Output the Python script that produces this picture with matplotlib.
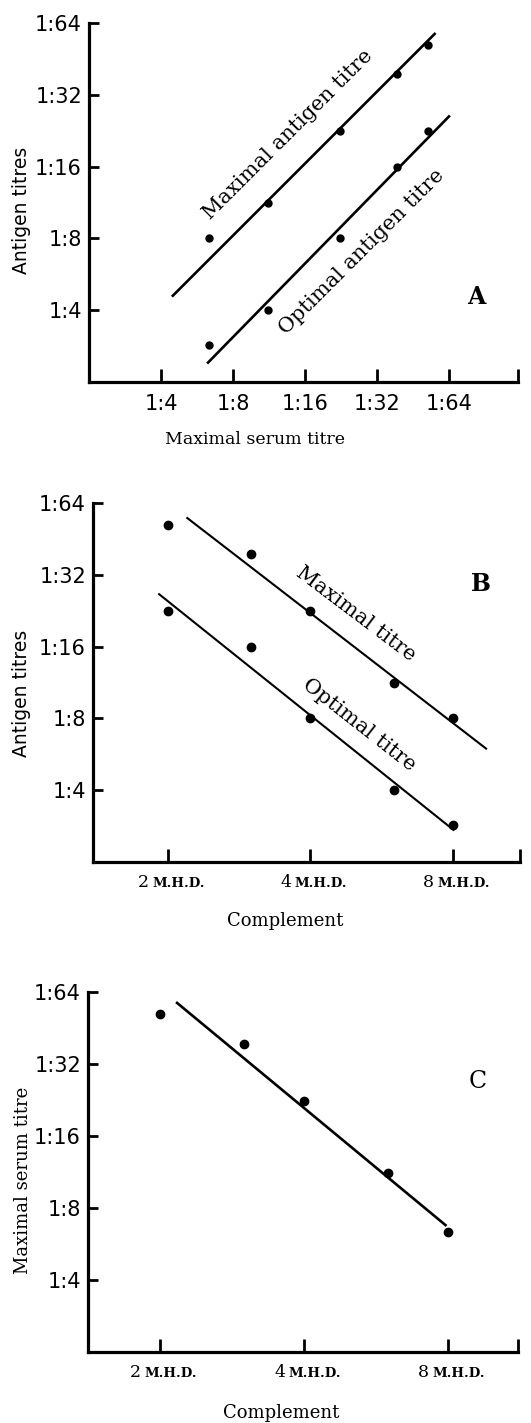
import matplotlib
matplotlib.use("Agg")
import matplotlib.pyplot as plt
from matplotlib.ticker import FixedLocator, FixedFormatter, NullLocator

# ---------------- data (reciprocal titres) ----------------
complement_mhd = [2, 3, 4, 6, 8]                     # complement dose (M.H.D.)
maximal_antigen = [52, 39, 22.5, 11.3, 8]            # maximal antigen titre (1:x)
optimal_antigen = [22.5, 16, 8, 4, 2.85]             # optimal antigen titre (1:x)
maximal_serum = [52, 38.7, 22.4, 11.2, 6.35]         # maximal serum titre (1:x)

# fitted lines drawn in the original (endpoints, reciprocal titres / M.H.D.)
fitA_max_x, fitA_max_y = [4.44, 56.1], [4.56, 58.1]
fitA_opt_x, fitA_opt_y = [6.23, 64.4], [2.39, 26.2]
fitB_max_x, fitB_max_y = [2.19, 9.45], [55.7, 5.94]
fitB_opt_x, fitB_opt_y = [1.91, 8.06], [26.7, 2.71]
fitC_x, fitC_y = [2.16, 7.94], [58.1, 6.73]

titre_ticks = [4, 8, 16, 32, 64]
titre_labels = ["1:4", "1:8", "1:16", "1:32", "1:64"]
mhd_ticks = [2, 4, 8]
mhd_digits = ["2", "4", "8"]

# ---------------- figure ----------------
W, H = 531, 1423
fig = plt.figure(figsize=(W / 100, H / 100), dpi=100)
fig.patch.set_facecolor("white")

SANS = "DejaVu Sans"
SERIF = "DejaVu Serif"


def px_axes(left, top, right, bottom):
    return fig.add_axes([left / W, 1 - bottom / H, (right - left) / W, (bottom - top) / H])


def style(ax, xlim, ylim, xticks, xlabels):
    ax.set_xscale("log", base=2)
    ax.set_yscale("log", base=2)
    ax.set_xlim(*xlim)
    ax.set_ylim(*ylim)
    for s in ("top", "right"):
        ax.spines[s].set_visible(False)
    for s in ("left", "bottom"):
        ax.spines[s].set_linewidth(2.3)
    ax.xaxis.set_major_locator(FixedLocator(xticks))
    ax.xaxis.set_major_formatter(FixedFormatter(xlabels))
    ax.yaxis.set_major_locator(FixedLocator(titre_ticks))
    ax.yaxis.set_major_formatter(FixedFormatter(titre_labels))
    ax.xaxis.set_minor_locator(NullLocator())
    ax.yaxis.set_minor_locator(NullLocator())
    ax.tick_params(axis="y", direction="in", length=7, width=2, pad=5, labelsize=15)
    ax.tick_params(axis="x", direction="in", length=9.5, width=2, pad=9, labelsize=15)
    for lab in ax.get_yticklabels() + ax.get_xticklabels():
        lab.set_family(SANS)


def mhd_labels(ax):
    for t, d in zip(mhd_ticks, mhd_digits):
        ax.annotate(d, xy=(t, 0), xycoords=("data", "axes fraction"),
                    xytext=(-13.5, -18), textcoords="offset points",
                    ha="right", va="baseline", fontsize=12.5, family=SERIF)
        ax.annotate("M.H.D.", xy=(t, 0), xycoords=("data", "axes fraction"),
                    xytext=(-11, -18), textcoords="offset points",
                    ha="left", va="baseline", fontsize=9.5, family=SERIF,
                    fontweight="bold")


def ftext(x, y, s, **kw):
    fig.text(x / W, 1 - y / H, s, **kw)


# ---------------- Panel A ----------------
axA = px_axes(89, 23, 518, 382)
style(axA, (2, 124), (2, 64), titre_ticks + [124], titre_labels + [""])
axA.plot(fitA_max_x, fitA_max_y, color="black", lw=1.9, solid_capstyle="butt")
axA.plot(fitA_opt_x, fitA_opt_y, color="black", lw=1.9, solid_capstyle="butt")
axA.plot(maximal_serum, maximal_antigen, "o", color="black", ms=5, clip_on=False)
axA.plot(maximal_serum, optimal_antigen, "o", color="black", ms=5, clip_on=False)
ftext(288, 135, "Maximal antigen titre", rotation=45, rotation_mode="anchor",
      ha="center", va="center", fontsize=15, family=SERIF)
ftext(362, 252, "Optimal antigen titre", rotation=45, rotation_mode="anchor",
      ha="center", va="center", fontsize=15, family=SERIF)
ftext(476, 297, "A", ha="center", va="center", fontsize=17, family=SERIF, fontweight="bold")
ftext(22, 210, "Antigen titres", rotation=90, ha="center", va="center", fontsize=13.5, family=SANS)
ftext(255, 440, "Maximal serum titre", ha="center", va="center", fontsize=12.5, family=SERIF)

# ---------------- Panel B ----------------
axB = px_axes(93, 503, 520, 862)
style(axB, (1.39, 11.1), (2, 64), mhd_ticks + [11.1], ["", "", "", ""])
axB.plot(fitB_max_x, fitB_max_y, color="black", lw=1.5, solid_capstyle="butt")
axB.plot(fitB_opt_x, fitB_opt_y, color="black", lw=1.5, solid_capstyle="butt")
axB.plot(complement_mhd, maximal_antigen, "o", color="black", ms=6, clip_on=False)
axB.plot(complement_mhd, optimal_antigen, "o", color="black", ms=6, clip_on=False)
mhd_labels(axB)
ftext(356, 614, "Maximal titre", rotation=-37, rotation_mode="anchor",
      ha="center", va="center", fontsize=15, family=SERIF)
ftext(359, 725, "Optimal titre", rotation=-38, rotation_mode="anchor",
      ha="center", va="center", fontsize=15, family=SERIF)
ftext(481, 584, "B", ha="center", va="center", fontsize=17, family=SERIF, fontweight="bold")
ftext(22, 693, "Antigen titres", rotation=90, ha="center", va="center", fontsize=13.5, family=SANS)
ftext(285, 921, "Complement", ha="center", va="center", fontsize=13, family=SERIF)

# ---------------- Panel C ----------------
axC = px_axes(88, 992, 518, 1352)
style(axC, (1.414, 11.2), (2, 64), mhd_ticks + [11.2], ["", "", "", ""])
axC.plot(fitC_x, fitC_y, color="black", lw=1.9, solid_capstyle="butt")
axC.plot(complement_mhd, maximal_serum, "o", color="black", ms=6, clip_on=False)
mhd_labels(axC)
ftext(478, 1081, "C", ha="center", va="center", fontsize=17, family=SERIF)
ftext(23, 1180, "Maximal serum titre", rotation=90, ha="center", va="center", fontsize=13, family=SERIF)
ftext(281, 1413, "Complement", ha="center", va="center", fontsize=13, family=SERIF)

fig.savefig("out.png", dpi=100, facecolor="white")
